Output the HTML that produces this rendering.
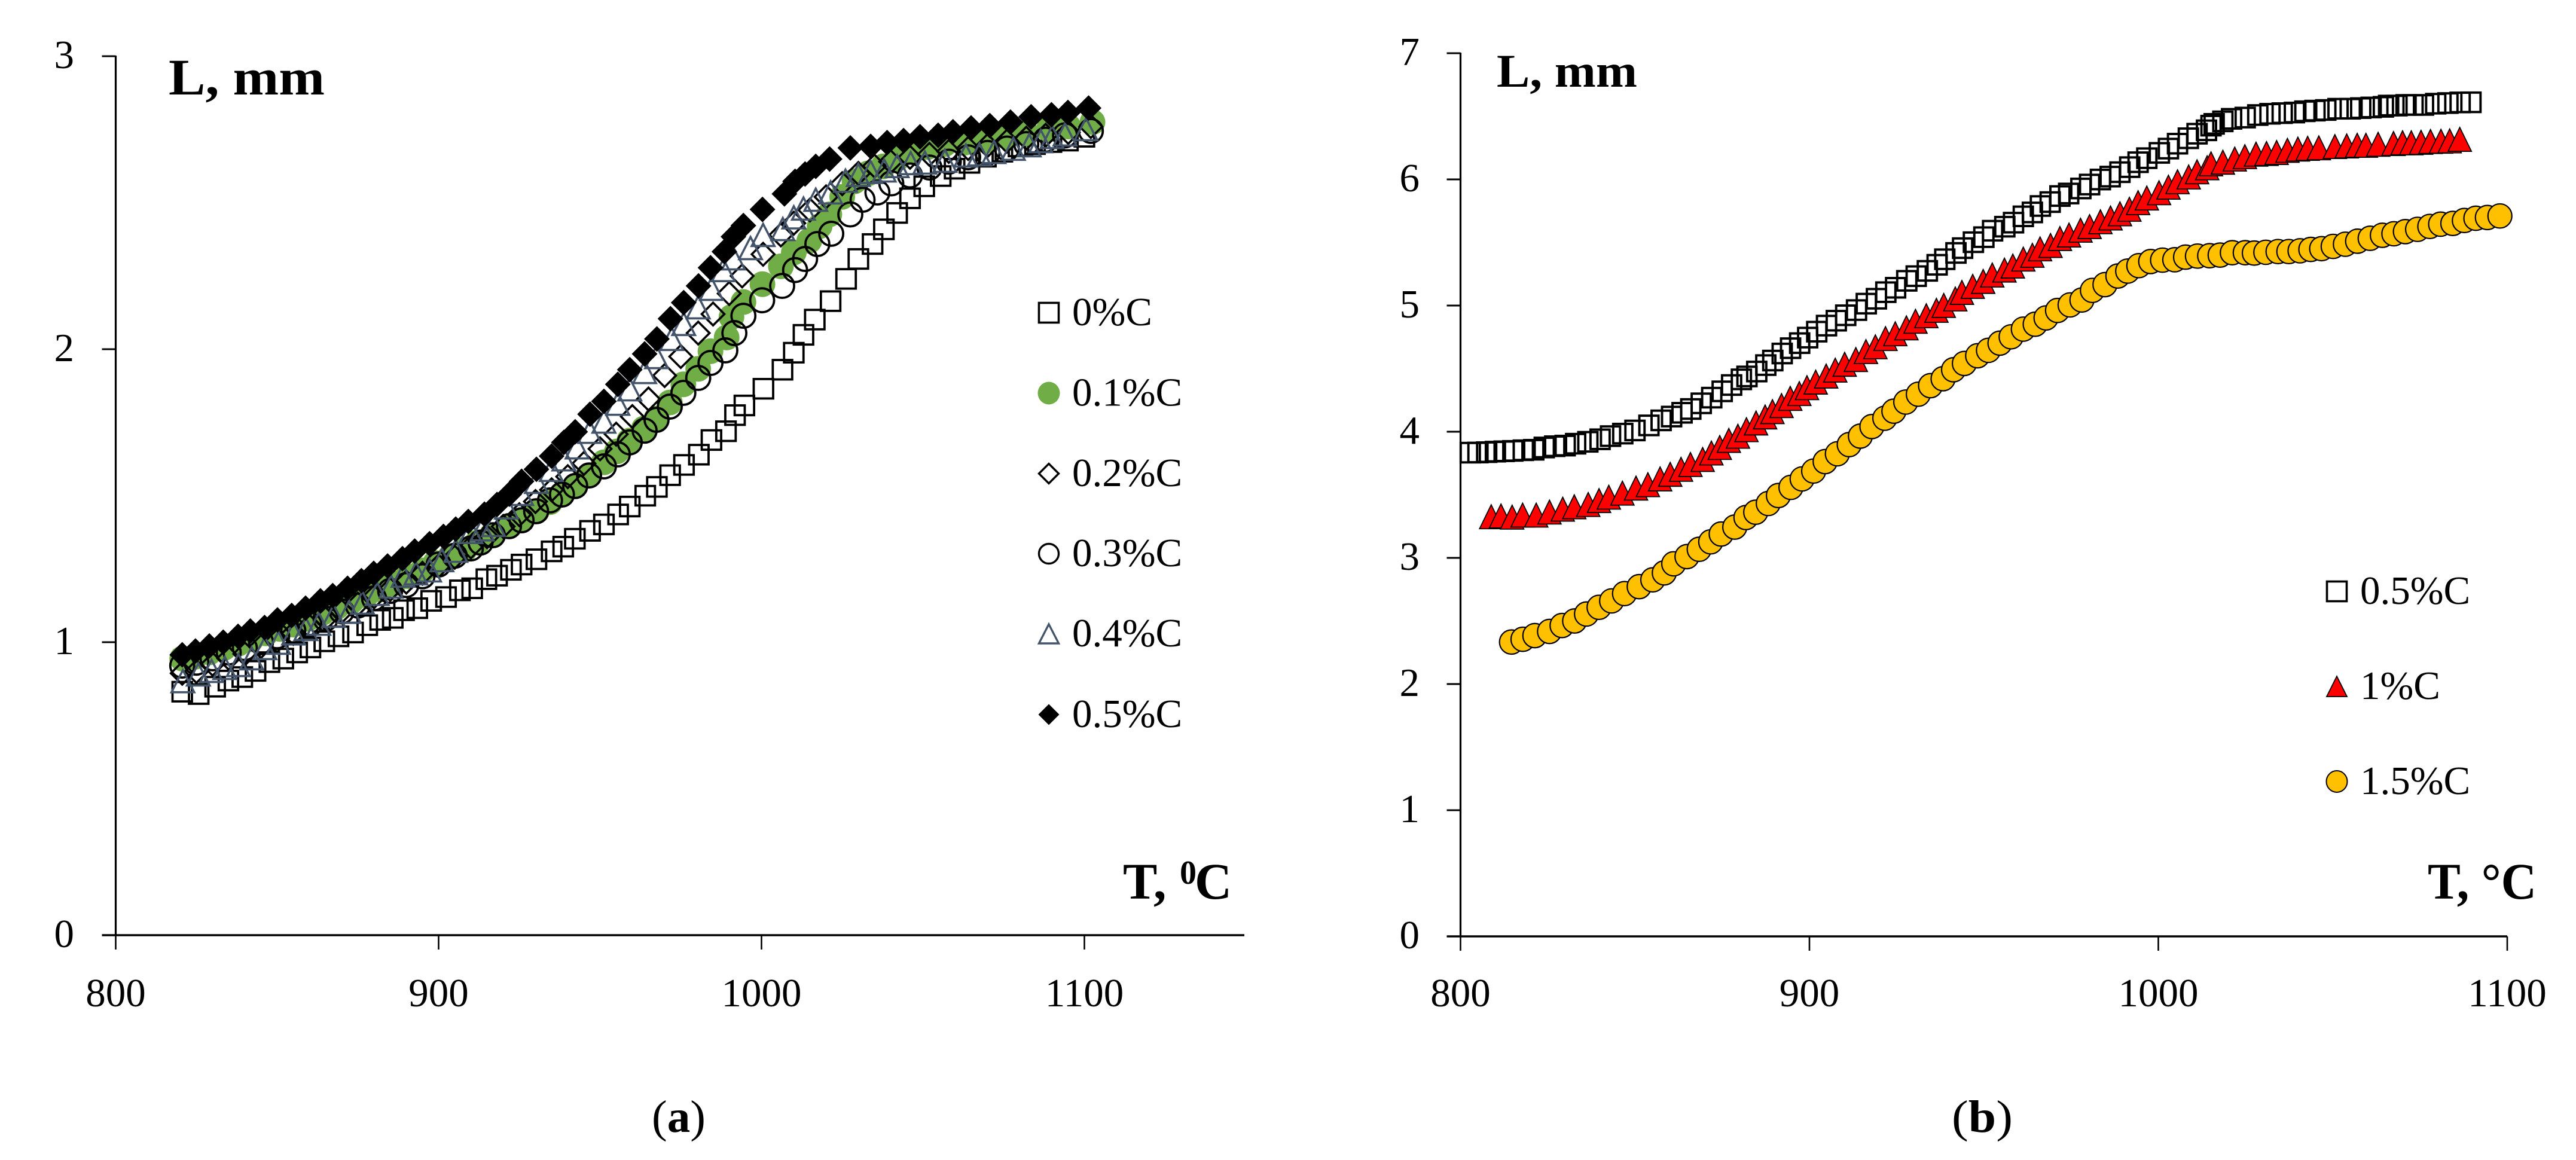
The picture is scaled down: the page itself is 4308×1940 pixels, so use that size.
<!DOCTYPE html>
<html lang="en">
<head>
<meta charset="utf-8">
<title>L versus T charts</title>
<style>
html,body{margin:0;padding:0;background:#fff;}
svg{display:block;}
text{font-family:"Liberation Serif",serif;fill:#000;}
</style>
</head>
<body>
<svg id="root" xmlns="http://www.w3.org/2000/svg" width="4308" height="1940" viewBox="0 0 4308 1940">
<rect width="4308" height="1940" fill="#fff"/>
<g id="chartA"></g>
<g id="chartB"></g>
<text x="282" y="158" font-size="86" font-weight="700" textLength="261" lengthAdjust="spacingAndGlyphs">L, mm</text>
<text font-weight="700" font-size="86"><tspan x="1878" y="1503">T,</tspan><tspan x="1973" y="1478" font-size="56">0</tspan><tspan x="1998" y="1503">C</tspan></text>
<text x="2503" y="145" font-size="78" font-weight="700" textLength="235" lengthAdjust="spacingAndGlyphs">L, mm</text>
<text x="4060" y="1503" font-size="86" font-weight="700" textLength="182" lengthAdjust="spacingAndGlyphs">T, °C</text>
<text x="1090" y="1893" font-size="76" textLength="90" lengthAdjust="spacingAndGlyphs">(<tspan font-weight="700">a</tspan>)</text>
<text x="3264" y="1893" font-size="76" textLength="102" lengthAdjust="spacingAndGlyphs">(<tspan font-weight="700">b</tspan>)</text>
</svg>
<script>
// Chart (a) tick labels
const aXTicks = [800, 900, 1000, 1100];
const aYTicks = [0, 1, 2, 3];
// Chart (b) tick labels
const bXTicks = [800, 900, 1000, 1100];
const bYTicks = [0, 1, 2, 3, 4, 5, 6, 7];

// Chart (a) series names
const aNames = ['0%C', '0.1%C', '0.2%C', '0.3%C', '0.4%C', '0.5%C'];
// Chart (b) series names
const bNames = ['0.5%C', '1%C', '1.5%C'];

// Chart (a), 0%C
const a0T = [820.6,825.7,830.8,834.9,839.2,843.3,847.6,851.9,856.2,860.3,864.6,869,873.5,877.9,881.9,885.8,889.3,893.4,897.7,902.3,906.6,910.4,914.8,918.1,922.4,925.7,930.3,935,938.6,942.2,946.9,951.2,955.6,959.2,964,967.6,971.7,976,980.6,984.5,989,991.8,994.7,1000.6,1006.5,1010,1013,1016.5,1021.4,1026.2,1030,1034.4,1037.9,1042,1046,1050.4,1055.5,1059.8,1064.4,1069.5,1074.6,1079.6,1084.7,1089.8,1094.9,1100];
const a0L = [0.831,0.823,0.848,0.869,0.881,0.902,0.932,0.944,0.965,0.982,1.003,1.02,1.033,1.058,1.076,1.083,1.109,1.116,1.141,1.154,1.177,1.184,1.215,1.227,1.247,1.265,1.283,1.31,1.326,1.353,1.38,1.402,1.436,1.463,1.5,1.53,1.57,1.605,1.64,1.69,1.72,1.775,1.808,1.865,1.93,1.988,2.049,2.101,2.164,2.24,2.308,2.359,2.409,2.465,2.515,2.556,2.591,2.616,2.636,2.657,2.674,2.692,2.7,2.707,2.712,2.725];
// Chart (a), 0.1%C
const a1T = [820.6,824.5,829,833.5,838,842,846.5,851,855,859.5,864,868.5,873,877.5,882,886,890.5,895,899,903.5,908,912,916.5,921.9,925.8,930.4,934.5,938.2,942.3,946.6,951.2,955.2,959.1,963.6,967.5,971.6,975.8,980.4,984.2,989.2,990.7,994.4,1000.3,1006,1010,1014.8,1018,1021,1025,1028.8,1033,1037.7,1042,1046.6,1051.5,1056.7,1063,1069.5,1076,1082,1089,1095,1102.5];
const a1L = [0.944,0.95,0.965,0.98,0.995,1.01,1.03,1.045,1.06,1.08,1.1,1.12,1.14,1.16,1.18,1.2,1.225,1.245,1.27,1.29,1.315,1.34,1.365,1.396,1.416,1.447,1.478,1.504,1.533,1.569,1.614,1.651,1.688,1.729,1.763,1.818,1.88,1.933,1.993,2.04,2.11,2.161,2.222,2.283,2.33,2.37,2.42,2.46,2.52,2.573,2.6,2.624,2.65,2.674,2.69,2.7,2.705,2.712,2.725,2.737,2.75,2.76,2.775];
// Chart (a), 0.2%C
const a2T = [820.6,825,830,835,840,845,850,855,860,865,870,875,880,885,890,895,900,905,910,915,920,925,930,935,940,945,950,955,960,965,970,975,980.4,985,990,994,1000.5,1006,1010,1015,1020,1025,1030,1035,1040,1046,1052,1058,1064,1070,1076,1082,1088,1095,1102];
const a2L = [0.894,0.9,0.925,0.945,0.96,0.985,1.005,1.03,1.055,1.08,1.105,1.13,1.155,1.18,1.205,1.235,1.26,1.29,1.325,1.36,1.395,1.435,1.48,1.52,1.565,1.61,1.66,1.71,1.77,1.83,1.91,1.975,2.055,2.12,2.19,2.25,2.324,2.39,2.43,2.475,2.52,2.565,2.6,2.625,2.64,2.655,2.665,2.675,2.685,2.695,2.71,2.72,2.73,2.74,2.76];
// Chart (a), 0.3%C
const a3T = [820.6,825,830,835,840,845,850,855,860,865,870,875,880,885,890,895,900,905,910,913,916.8,921.8,925.7,930.2,934.5,938.2,942.3,946.6,951.2,955.5,959.2,963.8,967.5,971.6,975.8,980.4,984.2,988.8,991.6,994.4,1000.2,1006.4,1010.4,1013.5,1017.3,1021.6,1027.5,1031.3,1035.9,1040.2,1046,1052,1058,1064,1070,1076,1082,1088,1094,1102];
const a3L = [0.92,0.93,0.945,0.965,0.98,1,1.02,1.04,1.06,1.08,1.105,1.125,1.15,1.175,1.195,1.225,1.265,1.295,1.32,1.34,1.365,1.396,1.416,1.447,1.484,1.504,1.533,1.569,1.6,1.641,1.682,1.722,1.759,1.804,1.851,1.902,1.953,1.996,2.055,2.114,2.167,2.216,2.27,2.308,2.359,2.394,2.46,2.51,2.535,2.566,2.593,2.62,2.64,2.655,2.67,2.685,2.7,2.715,2.73,2.745];
// Chart (a), 0.4%C
const a4T = [820.8,825.6,829.7,833.8,838,842.1,846.2,850.4,855.1,858.9,862.9,867.5,872.3,876.4,881,885.3,889,893,897.2,901,905.3,910,913.5,917,921,925.7,930.3,934.9,938.8,942.9,946.8,951.2,955.5,959.2,963.8,967.5,972.2,975.9,980.4,984.5,988.2,991.3,996.6,1000.5,1006.6,1010,1013,1016.8,1021.4,1026,1030,1033.8,1038,1042,1046.2,1050.6,1056.8,1063.3,1067.5,1072,1078,1082.9,1086.5,1090,1094,1100.5];
const a4L = [0.867,0.89,0.902,0.912,0.922,0.945,0.98,0.998,1.03,1.045,1.063,1.09,1.104,1.135,1.165,1.19,1.227,1.235,1.245,1.28,1.312,1.376,1.385,1.4,1.46,1.506,1.547,1.588,1.624,1.665,1.718,1.753,1.814,1.863,1.922,1.973,2.035,2.086,2.143,2.206,2.27,2.31,2.345,2.39,2.41,2.45,2.48,2.51,2.535,2.575,2.595,2.605,2.61,2.625,2.635,2.637,2.643,2.661,2.665,2.673,2.684,2.696,2.71,2.724,2.733,2.751];
// Chart (a), 0.5%C
const a5T = [820.6,824.7,829,833.3,837.9,841.7,846.1,850.1,854.5,858.8,863.4,867.2,871.8,876.1,879.9,884.2,888.8,892.6,897.2,901.5,905.3,909.2,914.2,918.1,921.9,925.7,930.3,935,938.8,942.3,946.9,951.2,955.5,959.2,963.8,967.6,971.8,975.9,980.5,984.2,988.5,991.3,994.4,1000.3,1007.1,1010.4,1013.5,1016.8,1021.1,1027.5,1033.8,1038.9,1044,1049.1,1054.7,1059.3,1064.9,1070.7,1077.1,1083.5,1089.8,1094.9,1101.3];
const a5L = [0.957,0.97,0.987,1,1.02,1.038,1.05,1.076,1.091,1.116,1.141,1.159,1.184,1.21,1.235,1.26,1.285,1.311,1.336,1.361,1.386,1.412,1.437,1.47,1.505,1.549,1.59,1.635,1.682,1.718,1.778,1.822,1.88,1.93,1.984,2.035,2.104,2.159,2.216,2.278,2.333,2.384,2.422,2.477,2.53,2.573,2.598,2.624,2.649,2.687,2.692,2.705,2.712,2.725,2.73,2.742,2.755,2.763,2.775,2.793,2.8,2.808,2.823];

// Chart (b), 0.5%C
const b0T = [802.8,805,807.5,810,812.5,815,818,821,824,827,830,833,836.5,840,843,846.5,850,854,857.5,860.5,863.5,866,869,872,875,877.7,880.5,882.1,884.9,887.5,889.5,892.2,894.6,897.2,899.5,902.1,904.9,907.7,910.4,913.5,916.3,919.2,921.9,924.7,927.9,930.6,933.8,936.6,938.8,942,943.9,947,950,952.5,956,958.5,961.3,963.9,966.2,969,971.8,974.3,977.8,980.3,983.4,986.2,989,991.8,994.2,996.7,1000.3,1002.9,1005.5,1008.6,1011.1,1013.8,1015.1,1016,1018.5,1021,1024.9,1028.5,1032,1035.5,1039,1042,1044.9,1048,1051.5,1055,1058,1061,1064.5,1066,1068.4,1071,1073,1076,1079.5,1083,1086.5,1089.6];
const b0L = [3.834,3.835,3.838,3.842,3.845,3.848,3.853,3.857,3.875,3.885,3.89,3.905,3.92,3.94,3.965,3.985,4.01,4.05,4.09,4.12,4.15,4.18,4.225,4.27,4.32,4.37,4.415,4.438,4.477,4.528,4.564,4.62,4.662,4.702,4.746,4.793,4.841,4.88,4.923,4.964,5.015,5.054,5.106,5.141,5.196,5.233,5.275,5.323,5.367,5.417,5.455,5.502,5.542,5.593,5.625,5.657,5.707,5.738,5.789,5.82,5.868,5.888,5.928,5.959,5.999,6.022,6.057,6.097,6.136,6.168,6.21,6.244,6.283,6.326,6.362,6.389,6.426,6.44,6.46,6.48,6.49,6.51,6.52,6.525,6.53,6.54,6.545,6.55,6.56,6.56,6.565,6.57,6.575,6.585,6.585,6.59,6.59,6.59,6.6,6.605,6.61,6.611];
// Chart (b), 1%C
const b1T = [808.8,811.6,814.8,817.8,821.7,825.5,829.3,832.6,836.6,839.7,842.5,846.4,850.3,853.7,857.2,860.1,863.2,865.9,869.4,871.9,874.3,876.9,879.5,881.95,884.7,887.3,889.4,892,894.5,897.1,899.3,901.8,904.8,907.4,910.1,913.3,916.2,918.9,921.8,924.6,927.8,930.4,933.5,936.4,938.5,941.8,943.7,946.8,949.8,952.4,955.9,958.3,961.3,963.9,966.1,969.1,971.8,974.4,977.7,980.3,983.4,986.3,989,991.7,994.2,996.7,1000.2,1002.9,1005.5,1008.7,1011.1,1014,1015.1,1018.5,1021.9,1024.8,1028,1031,1033.9,1037,1040,1042.8,1046,1050.6,1054,1057,1059.5,1063,1067.4,1070,1072.5,1075.3,1078,1081,1083.5,1086.4];
const b1L = [3.326,3.332,3.323,3.339,3.339,3.363,3.386,3.405,3.423,3.454,3.481,3.513,3.553,3.58,3.626,3.662,3.702,3.74,3.78,3.831,3.875,3.931,3.964,4.016,4.069,4.117,4.159,4.207,4.264,4.302,4.349,4.393,4.441,4.488,4.534,4.572,4.635,4.673,4.738,4.776,4.823,4.875,4.919,4.962,5.001,5.052,5.104,5.152,5.191,5.242,5.281,5.313,5.368,5.398,5.449,5.476,5.531,5.559,5.597,5.626,5.664,5.694,5.727,5.763,5.815,5.852,5.894,5.938,5.981,6.019,6.06,6.092,6.123,6.136,6.161,6.18,6.2,6.205,6.213,6.23,6.24,6.246,6.25,6.26,6.265,6.27,6.27,6.278,6.284,6.29,6.29,6.294,6.3,6.302,6.305,6.317];
// Chart (b), 1.5%C
const b2T = [814.6,817.9,821.3,825.5,829.1,832.7,836.1,839.7,843.3,847,851.2,855.1,858.4,861.1,864.9,868.4,871.7,874.7,878.6,881.8,884.6,888.2,891.1,894.7,897.9,901.2,904.5,908,911.4,914.6,917.9,921.6,924.2,927.6,931.2,934.7,938.3,941.3,944.4,948.2,951.3,954.6,957.8,961.3,964.7,967.8,971.1,974.7,978.1,981.1,984.7,988.4,991.2,994.4,997.8,1001.2,1004.7,1007.8,1011.2,1014.7,1017.7,1021.2,1024.9,1027.5,1030.8,1034.3,1037.4,1040.6,1043.7,1046.8,1050.1,1053.6,1057.1,1060.7,1064.2,1067.5,1070.8,1074.3,1077.8,1080.9,1084.4,1087.7,1091,1094.3,1097.9];
const b2L = [2.333,2.355,2.384,2.417,2.464,2.5,2.555,2.608,2.659,2.717,2.772,2.826,2.881,2.953,3.01,3.068,3.127,3.189,3.244,3.32,3.362,3.431,3.494,3.559,3.626,3.688,3.763,3.825,3.898,3.965,4.041,4.107,4.163,4.235,4.297,4.365,4.42,4.491,4.541,4.602,4.645,4.702,4.752,4.813,4.852,4.902,4.961,5.005,5.044,5.12,5.166,5.234,5.273,5.316,5.349,5.36,5.363,5.384,5.392,5.395,5.4,5.419,5.419,5.416,5.422,5.428,5.428,5.434,5.445,5.451,5.469,5.486,5.51,5.533,5.557,5.569,5.586,5.604,5.627,5.645,5.651,5.674,5.692,5.698,5.71];

const SVGNS = 'http://www.w3.org/2000/svg';

// Axis functions
function aX(t) { return 193.5 + (t - 800) * 5.4; }
function aY(l) { return 1564 - l * 490; }
function bX(t) { return 2442.5 + (t - 800) * 5.835; }
function bY(l) { return 1566 - l * 211; }

function shape(kind, cx, cy, style) {
  const w = style.w / 2, h = style.h / 2;
  let el;
  if (kind === 'square') {
    el = document.createElementNS(SVGNS, 'rect');
    el.setAttribute('x', cx - w);
    el.setAttribute('y', cy - h);
    el.setAttribute('width', 2 * w);
    el.setAttribute('height', 2 * h);
  } else if (kind === 'circle') {
    el = document.createElementNS(SVGNS, 'ellipse');
    el.setAttribute('cx', cx);
    el.setAttribute('cy', cy);
    el.setAttribute('rx', w);
    el.setAttribute('ry', h);
  } else if (kind === 'diamond') {
    el = document.createElementNS(SVGNS, 'polygon');
    el.setAttribute('points', [cx, cy - h, cx + w, cy, cx, cy + h, cx - w, cy].join(' '));
  } else {
    el = document.createElementNS(SVGNS, 'polygon');
    el.setAttribute('points', [cx, cy - h, cx + w, cy + h, cx - w, cy + h].join(' '));
  }
  el.setAttribute('fill', style.fill);
  el.setAttribute('stroke', style.stroke);
  el.setAttribute('stroke-width', style.sw);
  el.setAttribute('stroke-linejoin', 'miter');
  return el;
}

function line(parent, x1, y1, x2, y2, sw, name) {
  const el = document.createElementNS(SVGNS, 'line');
  el.setAttribute('x1', x1);
  el.setAttribute('y1', y1);
  el.setAttribute('x2', x2);
  el.setAttribute('y2', y2);
  el.setAttribute('stroke', '#000');
  el.setAttribute('stroke-width', sw);
  
  
  parent.appendChild(el);
}

function label(parent, x, y, str, anchor, name) {
  const el = document.createElementNS(SVGNS, 'text');
  el.setAttribute('x', x);
  el.setAttribute('y', y);
  el.setAttribute('font-size', '67');
  el.setAttribute('text-anchor', anchor);
  el.textContent = str;
  
  
  parent.appendChild(el);
}

function drawAxes(parent, xf, yf, xTicks, yTicks, yLabelX, xEnd, prefix) {
  const x0 = xf(xTicks[0]);
  const y0 = yf(yTicks[0]);
  const yTop = yf(yTicks[yTicks.length - 1]);
  line(parent, x0, yTop - 1, x0, y0, 3.2, prefix + '-y-axis');
  line(parent, x0 - 23, y0, xEnd, y0, 3.6, prefix + '-x-axis');
  xTicks.forEach(function (t) {
    line(parent, xf(t), y0, xf(t), y0 + 24, 2.6, prefix + '-x-tick');
    label(parent, xf(t), 1683, String(t), 'middle', prefix + '-x-tick-label');
  });
  yTicks.forEach(function (v) {
    line(parent, x0 - 23, yf(v), x0, yf(v), 3, prefix + '-y-tick');
    label(parent, yLabelX, yf(v) + 20, String(v), 'end', prefix + '-y-tick-label');
  });
}

function drawSeries(parent, xf, yf, T, L, kind, style, name) {
  const g = document.createElementNS(SVGNS, 'g');
  
  
  L.forEach(function (v, i) {
    const m = shape(kind, xf(T[i]), yf(v), style);
    
    
    g.appendChild(m);
  });
  parent.appendChild(g);
}

function drawLegend(parent, x, textX, y, str, kind, style, name) {
  const g = document.createElementNS(SVGNS, 'g');
  
  
  const m = shape(kind, x, y, style);
  
  
  g.appendChild(m);
  label(g, textX, y + 21, str, 'start', name + '-label');
  parent.appendChild(g);
}

const chartA = document.getElementById('chartA');
const chartB = document.getElementById('chartB');

drawAxes(chartA, aX, aY, aXTicks, aYTicks, 124, 2081, 'chart-a');
drawAxes(chartB, bX, bY, bXTicks, bYTicks, 2374, bX(1100), 'chart-b');

const stSquare = { w: 32.5, h: 32.5, fill: 'none', stroke: '#000', sw: 3.8 };
const stGreen = { w: 43, h: 43, fill: '#70ad47', stroke: 'none', sw: 0 };
const stDiamond = { w: 38, h: 38, fill: 'none', stroke: '#000', sw: 3.6 };
const stCircle = { w: 40, h: 40, fill: 'none', stroke: '#000', sw: 3.8 };
const stTriangle = { w: 38, h: 37, fill: 'none', stroke: '#44546a', sw: 3.6 };
const stBlack = { w: 43, h: 43, fill: '#000', stroke: 'none', sw: 0 };

drawSeries(chartA, aX, aY, a0T, a0L, 'square', stSquare, 'series-0pct');
drawSeries(chartA, aX, aY, a1T, a1L, 'circle', stGreen, 'series-0-1pct');
drawSeries(chartA, aX, aY, a2T, a2L, 'diamond', stDiamond, 'series-0-2pct');
drawSeries(chartA, aX, aY, a3T, a3L, 'circle', stCircle, 'series-0-3pct');
drawSeries(chartA, aX, aY, a4T, a4L, 'triangle', stTriangle, 'series-0-4pct');
drawSeries(chartA, aX, aY, a5T, a5L, 'diamond', stBlack, 'series-0-5pct');

const stSquareB = { w: 32, h: 32.5, fill: 'none', stroke: '#000', sw: 3.9 };
const stRed = { w: 39, h: 40, fill: '#ff0000', stroke: '#000', sw: 1.8 };
const stAmber = { w: 40, h: 40.5, fill: '#ffc000', stroke: '#000', sw: 2.2 };
drawSeries(chartB, bX, bY, b0T, b0L, 'square', stSquareB, 'series-b-0-5pct');
drawSeries(chartB, bX, bY, b1T, b1L, 'triangle', stRed, 'series-b-1pct');
drawSeries(chartB, bX, bY, b2T, b2L, 'circle', stAmber, 'series-b-1-5pct');

const legSquare = { w: 33, h: 33, fill: '#fff', stroke: '#000', sw: 3.6 };
const legGreen = { w: 37, h: 38, fill: '#70ad47', stroke: 'none', sw: 0 };
const legDiamond = { w: 33, h: 33, fill: '#fff', stroke: '#000', sw: 3.4 };
const legCircle = { w: 33, h: 33, fill: '#fff', stroke: '#000', sw: 3.4 };
const legTriangle = { w: 33, h: 32, fill: '#fff', stroke: '#44546a', sw: 3.4 };
const legBlack = { w: 35, h: 35, fill: '#000', stroke: 'none', sw: 0 };
const legRed = { w: 34, h: 34, fill: '#ff0000', stroke: '#000', sw: 1.8 };
const legAmber = { w: 35, h: 36, fill: '#ffc000', stroke: '#000', sw: 2 };

drawLegend(chartA, 1754, 1793, 523, aNames[0], 'square', legSquare, 'legend-entry-0pct');
drawLegend(chartA, 1754, 1793, 657.5, aNames[1], 'circle', legGreen, 'legend-entry-0-1pct');
drawLegend(chartA, 1754, 1793, 792, aNames[2], 'diamond', legDiamond, 'legend-entry-0-2pct');
drawLegend(chartA, 1754, 1793, 926, aNames[3], 'circle', legCircle, 'legend-entry-0-3pct');
drawLegend(chartA, 1754, 1793, 1060, aNames[4], 'triangle', legTriangle, 'legend-entry-0-4pct');
drawLegend(chartA, 1754, 1793, 1195, aNames[5], 'diamond', legBlack, 'legend-entry-0-5pct');

drawLegend(chartB, 3908, 3947, 989, bNames[0], 'square', legSquare, 'legend-entry-b-0-5pct');
drawLegend(chartB, 3908, 3947, 1148, bNames[1], 'triangle', legRed, 'legend-entry-b-1pct');
drawLegend(chartB, 3908, 3947, 1307, bNames[2], 'circle', legAmber, 'legend-entry-b-1-5pct');
</script>
</body>
</html>
